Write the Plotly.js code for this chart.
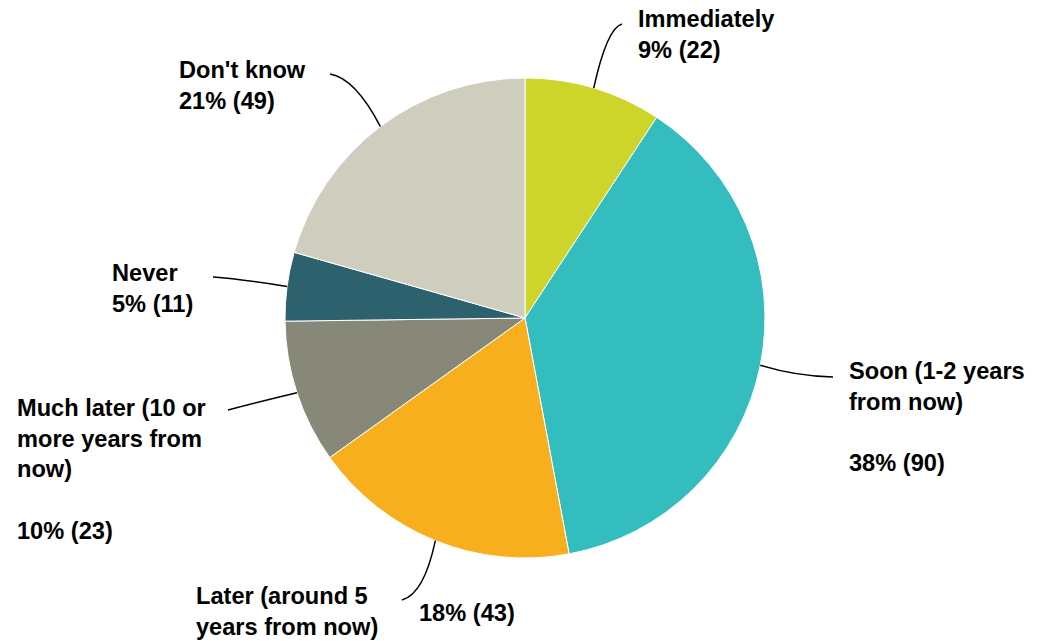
<!DOCTYPE html>
<html>
<head>
<meta charset="utf-8">
<script src="https://cdn.plot.ly/plotly-3.0.1.min.js"></script>
<style>html,body{margin:0;padding:0;background:#fff}#chart{width:1037px;height:641px}</style>
</head>
<body>
<div id="chart"></div>
<script>
const categories = ["Immediately", "Soon (1-2 years from now)", "Later (around 5 years from now)", "Much later (10 or more years from now)", "Never", "Don't know"];
const counts = [22, 90, 43, 23, 11, 49];
const percents = ["9%", "38%", "18%", "10%", "5%", "21%"];
const colors = ["#CDD52A", "#34BDBF", "#F7AF1E", "#888878", "#2D616E", "#CFCDBE"];

const W = 1037, H = 641;
const cx = 525, cy = 318, R = 240;
const px = x => x / W;
const py = y => 1 - y / H;

const FONT = {family: "Liberation Sans, Arial, sans-serif", size: 23.6, color: "#000000"};

// label layout (positions only)
const labelText = [
  "<b>Immediately<br>" + percents[0] + " (" + counts[0] + ")</b>",
  "<b>Soon (1-2 years<br>from now)<br> <br>" + percents[1] + " (" + counts[1] + ")</b>",
  "<b>Later (around 5<br>years from now)</b>",
  "<b>Much later (10 or<br>more years from<br>now)<br> <br>" + percents[3] + " (" + counts[3] + ")</b>",
  "<b>Never<br>" + percents[4] + " (" + counts[4] + ")</b>",
  "<b>Don't know<br>" + percents[5] + " (" + counts[5] + ")</b>"
];
const labelPos = [[636, 4], [847, 356], [194, 581], [15, 393], [110, 258], [177, 55]];
const leaderEnd = [[622, 24], [833, 377], [402, 600], [228, 410], [213, 277], [330, 74]];
const leaderCtrl = [[607, 28], [795, 376], [424, 594], [258, 402], [240, 279], [355, 78]];

const annotations = labelText.map((t, i) => ({
  text: t, xref: "paper", yref: "paper", x: px(labelPos[i][0]), y: py(labelPos[i][1]),
  xanchor: "left", yanchor: "top", align: "left", showarrow: false, font: FONT
}));
annotations.push({
  text: "<b>" + percents[2] + " (" + counts[2] + ")</b>", xref: "paper", yref: "paper",
  x: px(417), y: py(598), xanchor: "left", yanchor: "top", align: "left", showarrow: false, font: FONT
});

const total = counts.reduce((a, b) => a + b, 0);
let cum = 0;
const shapes = counts.map((c, i) => {
  const mid = (cum + c / 2) / total * 2 * Math.PI;
  cum += c;
  const sx = cx + R * Math.sin(mid), sy = cy - R * Math.cos(mid);
  const [ex, ey] = leaderEnd[i];
  const [qx, qy] = leaderCtrl[i];
  return {
    type: "path", xref: "paper", yref: "paper",
    path: `M ${px(sx)} ${py(sy)} Q ${px(qx)} ${py(qy)} ${px(ex)} ${py(ey)}`,
    line: {color: "#000000", width: 1.5}
  };
});

const data = [{
  type: "pie",
  labels: categories,
  values: counts,
  sort: false,
  direction: "clockwise",
  rotation: 0,
  textinfo: "none",
  hoverinfo: "label+value+percent",
  marker: {colors: colors, line: {color: "#ffffff", width: 1}},
  domain: {x: [px(cx - R), px(cx + R)], y: [py(cy + R), py(cy - R)]},
  showlegend: false
}];

const layout = {
  width: W, height: H,
  margin: {l: 0, r: 0, t: 0, b: 0},
  paper_bgcolor: "#ffffff",
  showlegend: false,
  annotations: annotations,
  shapes: shapes
};

Plotly.newPlot("chart", data, layout, {displayModeBar: false, staticPlot: true});
</script>
</body>
</html>
